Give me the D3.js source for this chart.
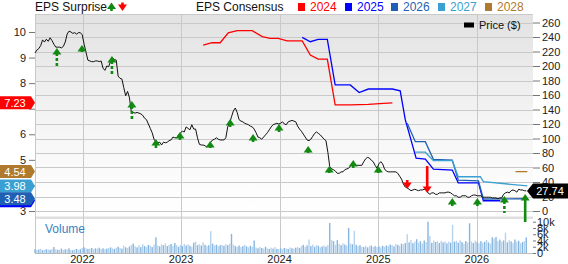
<!DOCTYPE html>
<html>
<head>
<meta charset="utf-8">
<script src="https://cdn.jsdelivr.net/npm/d3@7"></script>
<style>
  body { margin: 0; background: #fff; }
  svg { display: block; font-family: "Liberation Sans", Arial, sans-serif; }
</style>
</head>
<body>
<svg id="chart" width="568" height="264"></svg>
<script>
// weekly closes from this date on
const priceStart = '2021-07-09'
const prices = [
  218, 222, 224, 228, 236, 233, 237, 234, 239, 235, 230, 226, 226, 226, 225, 227, 233, 244, 248, 247,
  245, 246, 244, 246, 246, 243, 230, 219, 208, 207, 206, 206, 207, 207, 206, 207, 197, 194, 200, 199,
  207, 211, 209, 208, 186, 183, 182, 170, 159, 165, 156, 136, 136, 135, 136, 135, 134, 132, 128, 126,
  120, 114, 108, 99, 95, 94, 95, 91, 95, 94, 95, 97, 98, 102, 101, 101, 105, 108, 110, 109,
  116, 114, 112, 119, 113, 113, 101, 92, 91, 91, 90, 88, 92, 95, 98, 99, 101, 99, 98, 98,
  98, 101, 116, 121, 130, 138, 142, 136, 126, 124, 123, 121, 120, 119, 117, 116, 113, 108, 102, 101,
  99, 102, 105, 108, 112, 116, 119, 120, 121, 120, 121, 123, 120, 119, 123, 124, 125, 124, 123, 117,
  113, 110, 106, 102, 98, 97, 99, 103, 107, 109, 107, 105, 102, 99, 97, 81, 61, 58, 57, 55,
  52, 52, 54, 54, 57, 58, 59, 62, 66, 65, 63, 63, 63, 63, 68, 72, 74, 73, 70, 68,
  63, 59, 65, 68, 65, 58, 55, 54, 54, 54, 54, 54, 52, 48, 44, 37, 33, 32, 30, 28,
  29, 30, 29, 28, 29, 29, 30, 29, 25, 23, 25, 25, 23, 23, 25, 25, 25, 25, 26, 26,
  25, 23, 21, 21, 19, 19, 21, 21, 21, 19, 19, 21, 22, 22, 21, 21, 21, 19, 19, 19,
  19, 19, 18, 18, 18, 17, 18, 18, 23, 25, 26, 25, 28, 29, 28, 26, 30, 29, 29, 28,
  27.74
]
// weekly volume, thousands
const volumes = [
  1.2, 1.0, 1.1, 1.3, 0.9, 1.0, 1.2, 1.1, 1.0, 1.3, 1.9, 1.2, 1.0, 1.1, 1.4, 1.0, 1.2, 1.1, 1.5, 1.0,
  0.9, 1.1, 1.3, 1.0, 1.2, 1.6, 1.8, 1.5, 1.3, 1.4, 1.6, 1.2, 1.5, 1.4, 1.7, 1.3, 1.5, 1.2, 1.4, 1.6,
  1.8, 1.5, 1.3, 1.7, 2.0, 1.6, 1.4, 2.4, 1.8, 1.6, 2.1, 2.6, 3.0, 2.2, 1.8, 2.5, 1.9, 2.8, 2.2, 2.0,
  2.6, 2.3, 1.9, 2.7, 5.0, 2.4, 2.1, 2.8, 2.5, 3.1, 2.2, 2.6, 2.9, 2.3, 3.2, 2.5, 2.0, 2.6, 2.2, 2.9,
  2.4, 2.8, 2.3, 2.0, 3.3, 3.6, 2.5, 2.8, 2.4, 3.4, 2.6, 2.2, 2.5, 7.0, 3.0, 2.4, 2.7, 2.2, 2.5, 2.6,
  2.3, 2.8, 2.5, 3.0, 6.1, 2.7, 2.2, 2.0, 2.4, 1.9, 2.2, 2.6, 2.1, 1.8, 2.3, 2.0, 4.0, 1.8, 1.5, 1.9,
  1.6, 1.4, 2.0, 1.5, 1.3, 1.7, 1.4, 1.9, 1.3, 1.3, 1.5, 1.2, 1.6, 1.4, 1.3, 1.8, 1.5, 1.4, 1.7, 1.9,
  1.6, 2.2, 2.6, 2.0, 2.4, 4.3, 2.2, 2.7, 2.0, 2.5, 2.3, 1.8, 2.1, 2.4, 2.0, 2.6, 9.6, 4.2, 3.8, 2.6,
  4.1, 2.9, 2.5, 3.1, 2.7, 2.4, 8.0, 3.0, 2.8, 7.1, 2.6, 2.2, 2.5, 2.0, 1.9, 2.3, 1.8, 2.1, 2.4, 1.9,
  2.2, 1.9, 2.1, 1.8, 2.3, 2.0, 2.4, 2.2, 2.7, 2.5, 2.1, 2.9, 2.6, 2.3, 3.0, 2.8, 3.2, 6.0, 3.4, 4.2,
  3.1, 3.6, 4.4, 3.3, 3.8, 3.0, 4.0, 3.5, 10.0, 5.5, 3.2, 4.0, 3.5, 3.8, 3.2, 3.9, 3.4, 3.7, 3.1, 3.6,
  3.3, 9.0, 3.6, 3.9, 3.3, 4.1, 3.5, 3.0, 3.8, 3.4, 9.5, 3.7, 3.2, 3.9, 3.5, 3.1, 3.8, 3.3, 3.6, 4.2,
  3.4, 3.0, 5.0, 4.6, 5.1, 3.8, 4.3, 3.6, 4.0, 6.5, 3.4, 4.1, 3.7, 3.2, 4.3, 3.6, 3.9, 3.1, 3.5, 3.8,
  5.0
]

const years = ['2022', '2023', '2024', '2025', '2026']
const priceTicks = [0, 20, 40, 60, 80, 100, 120, 140, 160, 180, 200, 220, 240, 260]
const epsTicks = [3, 4, 5, 6, 7, 8, 9, 10]
const volTicks = [0, 2, 4, 6, 8, 10]

// EPS consensus by fiscal year: [date, estimate]
const consensusYears = ['2024', '2025', '2026', '2027', '2028']
const eps2024 = [
  ['2023-03-24', 9.49], ['2023-04-26', 9.58], ['2023-05-26', 9.58], ['2023-06-25', 9.97],
  ['2023-07-28', 10.05], ['2023-09-22', 10.05], ['2023-10-29', 9.82], ['2023-11-27', 9.75],
  ['2023-12-27', 9.75], ['2024-01-29', 9.65], ['2024-03-25', 9.65], ['2024-04-24', 9.10],
  ['2024-05-23', 8.94], ['2024-06-26', 8.94], ['2024-07-25', 7.15], ['2024-09-19', 7.15],
  ['2024-11-25', 7.17], ['2025-01-20', 7.21], ['2025-02-22', 7.23]
]
const eps2025 = [
  ['2024-03-25', 9.79], ['2024-04-24', 9.62], ['2024-05-23', 9.71], ['2024-06-26', 9.71],
  ['2024-07-25', 7.93], ['2024-09-19', 7.93], ['2024-10-22', 7.63], ['2024-11-25', 7.77],
  ['2025-02-22', 7.77], ['2025-03-23', 7.70], ['2025-04-11', 6.56], ['2025-05-21', 5.07],
  ['2025-06-24', 5.03], ['2025-07-24', 4.64], ['2025-10-02', 4.60], ['2025-10-24', 4.10],
  ['2026-01-07', 4.10], ['2026-01-25', 3.40], ['2026-03-29', 3.40]
]
const eps2026 = [
  ['2025-04-18', 6.43], ['2025-05-18', 5.71], ['2025-06-24', 5.71], ['2025-07-24', 5.02],
  ['2025-10-02', 4.99], ['2025-10-24', 4.21], ['2026-01-07', 4.18], ['2026-01-25', 3.47],
  ['2026-07-07', 3.48]
]
const eps2027 = [
  ['2025-05-18', 5.30], ['2025-06-24', 5.30], ['2025-07-24', 4.97], ['2025-10-02', 4.97],
  ['2025-10-24', 4.34], ['2026-01-14', 4.34], ['2026-01-25', 4.15], ['2026-07-07', 3.98]
]
const eps2028 = [['2026-05-24', 4.54], ['2026-07-07', 4.54]]

// EPS surprises: report date, direction, arrow tip and tail in price units
const surpriseDates = [
  '2021-09-28', '2021-12-30', '2022-04-20', '2022-07-03', '2022-09-30', '2022-12-28',
  '2023-04-19', '2023-07-02', '2023-09-25', '2023-12-30', '2024-04-16', '2024-07-03',
  '2024-09-30', '2025-01-01', '2025-04-18', '2025-07-01', '2025-10-02', '2026-01-03',
  '2026-04-13', '2026-06-29'
]
const surpriseDir = [
  'up', 'up', 'up', 'up', 'up', 'up', 'up', 'up', 'up', 'up', 'up', 'up',
  'up', 'up', 'down', 'down', 'up', 'up', 'up', 'up'
]
const surpriseTip = [
  224.8, 229, 213.8, 151.7, 99.3, 109, 96.6, 126.9, 106.2, 120, 89.7, 62,
  70.3, 62, 30.3, 24.8, 17.9, 17.9, 20.7, 23.4
]
const surpriseTail = [
  198.6, 219.3, 187.6, 126.9, 86.9, 97.9, 86.9, 115.9, 95.2, 109, 80, 52.4,
  59.3, 52.4, 42.8, 62, 6.9, 6.9, -2.8, -15.2
]
const surpriseDashed = [
  true, false, true, true, false, false, false, false, false, false, false, false,
  false, false, false, false, false, false, true, false
]
const lastPrice = 27.74

const colors = { '2024': '#ff0000', '2025': '#0000ff', '2026': '#1f5fb4', '2027': '#3a9fd2', '2028': '#b07a2e' }
const green = '#128a12'
const gridColor = '#c9c9c9'

const parse = d3.timeParse('%Y-%m-%d')
const svg = d3.select('#chart')

const L = 35, R = 533, T = 14, B = 211

const x = d3.scaleTime()
  .domain([parse('2021-07-09'), parse('2026-07-28')])
  .range([L, R])
const yPrice = d3.scaleLinear().domain([0, 260]).range([B, 22.5])
const yEps = d3.scaleLinear().domain([3, 10]).range([B, 32])
const yVol = d3.scaleLinear().domain([0, 10]).range([253, 221.7])

const start = parse(priceStart)
const weekDate = i => d3.timeDay.offset(start, 7 * i)

// background gradient
const grad = svg.append('defs').append('linearGradient')
  .attr('id', 'bg').attr('x1', 0).attr('y1', 0).attr('x2', 0).attr('y2', 1)
grad.append('stop').attr('offset', 0).attr('stop-color', '#e2e2e2')
grad.append('stop').attr('offset', 0.6).attr('stop-color', '#f6f6f6')
grad.append('stop').attr('offset', 1).attr('stop-color', '#ffffff')

svg.append('rect')
  .attr('x', L).attr('y', T).attr('width', R - L).attr('height', B - T)
  .attr('fill', 'url(#bg)')

// horizontal grid
svg.append('g')
  .selectAll('line')
  .data(priceTicks)
  .enter()
  .append('line')
  .attr('x1', L).attr('x2', R)
  .attr('y1', d => Math.round(yPrice(d)) + 0.5)
  .attr('y2', d => Math.round(yPrice(d)) + 0.5)
  .attr('stroke', gridColor)

svg.append('line')
  .attr('x1', L).attr('x2', R).attr('y1', T + 0.5).attr('y2', T + 0.5)
  .attr('stroke', gridColor)

// separator between price and volume
svg.append('rect')
  .attr('x', L).attr('y', 216.5).attr('width', R - L).attr('height', 2.5)
  .attr('fill', '#e0e0e0')

// vertical grid
svg.append('g')
  .selectAll('line')
  .data(years)
  .enter()
  .append('line')
  .attr('x1', d => Math.round(x(parse(d + '-01-01'))) + 0.5)
  .attr('x2', d => Math.round(x(parse(d + '-01-01'))) + 0.5)
  .attr('y1', T).attr('y2', 254)
  .attr('stroke', gridColor)

svg.append('line')
  .attr('x1', L + 0.5).attr('x2', L + 0.5).attr('y1', T).attr('y2', 254)
  .attr('stroke', gridColor)
svg.append('line')
  .attr('x1', L).attr('x2', R).attr('y1', 253.5).attr('y2', 253.5)
  .attr('stroke', '#bbbbbb')

// volume bars
svg.append('g')
  .selectAll('rect')
  .data(volumes)
  .enter()
  .append('rect')
  .attr('x', (d, i) => x(weekDate(i)) - 0.7)
  .attr('width', 1.4)
  .attr('y', d => yVol(d))
  .attr('height', d => yVol(0) - yVol(d))
  .attr('fill', (d, i) => i % 2 ? '#b6d3ee' : '#86b5e0')

svg.append('text')
  .text('Volume')
  .attr('x', 45).attr('y', 233)
  .attr('font-size', 12)
  .attr('fill', '#3a82c4')

// consensus lines
const epsSeries = [eps2024, eps2025, eps2026, eps2027, eps2028]
const epsLine = d3.line()
  .x(d => x(parse(d[0])))
  .y(d => yEps(d[1]))

svg.append('g')
  .selectAll('path')
  .data(epsSeries)
  .enter()
  .append('path')
  .attr('d', d => epsLine(d))
  .attr('fill', 'none')
  .attr('stroke', (d, i) => colors[consensusYears[i]])
  .attr('stroke-width', 1.3)

// price line
const priceLine = d3.line()
  .x((d, i) => x(weekDate(i)))
  .y(d => yPrice(d))

svg.append('path')
  .attr('d', priceLine(prices))
  .attr('fill', 'none')
  .attr('stroke', '#111')
  .attr('stroke-width', 1)

// surprise arrows
function arrow(g, cx, tip, tail, dir, color, dashed) {
  let s = dir === 'up' ? 1 : -1
  let stemTop = tip + s * 5
  g.append('line')
    .attr('x1', cx).attr('x2', cx)
    .attr('y1', stemTop).attr('y2', tail)
    .attr('stroke', color)
    .attr('stroke-width', 2.6)
    .attr('stroke-dasharray', dashed ? '3,2' : null)
  g.append('path')
    .attr('d', 'M' + cx + ',' + tip + 'L' + (cx - 4.5) + ',' + (tip + s * 6.5) +
      'L' + (cx + 4.5) + ',' + (tip + s * 6.5) + 'Z')
    .attr('fill', color)
}

let arrows = svg.append('g')
surpriseDates.forEach((d, i) => {
  let up = surpriseDir[i] === 'up'
  arrow(arrows, x(parse(d)), yPrice(surpriseTip[i]), yPrice(surpriseTail[i]),
    surpriseDir[i], up ? green : '#ff0000', surpriseDashed[i])
})

// left axis (4 and 7 sit under the badges)
const leftAxis = d3.axisLeft(yEps).tickValues(epsTicks).tickSize(6).tickPadding(3)
  .tickFormat(d => (d === 4 || d === 7) ? '' : d)
svg.append('g')
  .attr('transform', 'translate(' + L + ',0)')
  .call(leftAxis)
  .call(g => g.select('.domain').remove())
  .call(g => g.selectAll('line').attr('stroke', '#777'))
  .call(g => g.selectAll('text').attr('font-size', 11).attr('fill', '#222')
    .attr('font-family', '"Liberation Sans", Arial, sans-serif'))

// right price axis
const rightAxis = d3.axisRight(yPrice).tickValues(priceTicks).tickSize(7).tickPadding(2)
svg.append('g')
  .attr('transform', 'translate(' + R + ',0)')
  .call(rightAxis)
  .call(g => g.select('.domain').remove())
  .call(g => g.selectAll('line').attr('stroke', '#777'))
  .call(g => g.selectAll('text').attr('font-size', 11).attr('fill', '#222')
    .attr('font-family', '"Liberation Sans", Arial, sans-serif'))

// right volume axis
const volAxis = d3.axisRight(yVol).tickValues(volTicks).tickSize(3).tickPadding(1)
  .tickFormat(d => d === 0 ? '0' : d + 'k')
svg.append('g')
  .attr('transform', 'translate(' + R + ',0)')
  .call(volAxis)
  .call(g => g.select('.domain').remove())
  .call(g => g.selectAll('line').attr('stroke', '#777'))
  .call(g => g.selectAll('text').attr('font-size', 11).attr('fill', '#222')
    .attr('font-family', '"Liberation Sans", Arial, sans-serif'))

// year labels
svg.append('g')
  .selectAll('text')
  .data(years)
  .enter()
  .append('text')
  .text(d => d)
  .attr('x', d => x(parse(d + '-01-01')))
  .attr('y', 263)
  .attr('text-anchor', 'middle')
  .attr('font-size', 11)
  .attr('fill', '#222')

// left badges with the latest consensus
const badgeOrder = ['2025', '2024', '2028', '2027', '2026']
badgeOrder.forEach(yr => {
  let s = epsSeries[consensusYears.indexOf(yr)]
  let v = s[s.length - 1][1]
  let cy = yEps(v)
  svg.append('path')
    .attr('d', 'M0,' + (cy - 6.5) + 'H31L35,' + cy + 'L31,' + (cy + 6.5) + 'H0Z')
    .attr('fill', colors[yr])
  svg.append('text')
    .text(v.toFixed(2))
    .attr('x', 15).attr('y', cy + 4)
    .attr('text-anchor', 'middle')
    .attr('font-size', 11)
    .attr('fill', '#fff')
})

// last price badge
let py = yPrice(lastPrice)
svg.append('path')
  .attr('d', 'M527,' + py + 'L533,' + (py - 7.5) + 'H568V' + (py + 7.5) + 'H533Z')
  .attr('fill', '#000')
svg.append('text')
  .text(lastPrice.toFixed(2))
  .attr('x', 550).attr('y', py + 4)
  .attr('text-anchor', 'middle')
  .attr('font-size', 11)
  .attr('fill', '#fff')

// header
svg.append('text')
  .text('EPS Surprise')
  .attr('x', 35).attr('y', 11)
  .attr('font-size', 12)
  .attr('fill', '#111')
arrow(svg, 111.5, 2.5, 11, 'up', green, false)
arrow(svg, 122.5, 11, 2.5, 'down', '#ff0000', false)

svg.append('text')
  .text('EPS Consensus')
  .attr('x', 196).attr('y', 11)
  .attr('font-size', 12)
  .attr('fill', '#111')

const legendX = [298, 345, 391, 438, 485]
consensusYears.forEach((yr, i) => {
  svg.append('rect')
    .attr('x', legendX[i]).attr('y', 3).attr('width', 7).attr('height', 8)
    .attr('fill', colors[yr])
  svg.append('text')
    .text(yr)
    .attr('x', legendX[i] + 12).attr('y', 11)
    .attr('font-size', 12)
    .attr('fill', colors[yr])
})

svg.append('rect')
  .attr('x', 464).attr('y', 22.5).attr('width', 10).attr('height', 5)
  .attr('fill', '#000')
svg.append('text')
  .text('Price ($)')
  .attr('x', 479).attr('y', 29)
  .attr('font-size', 11)
  .attr('fill', '#111')
</script>
</body>
</html>
